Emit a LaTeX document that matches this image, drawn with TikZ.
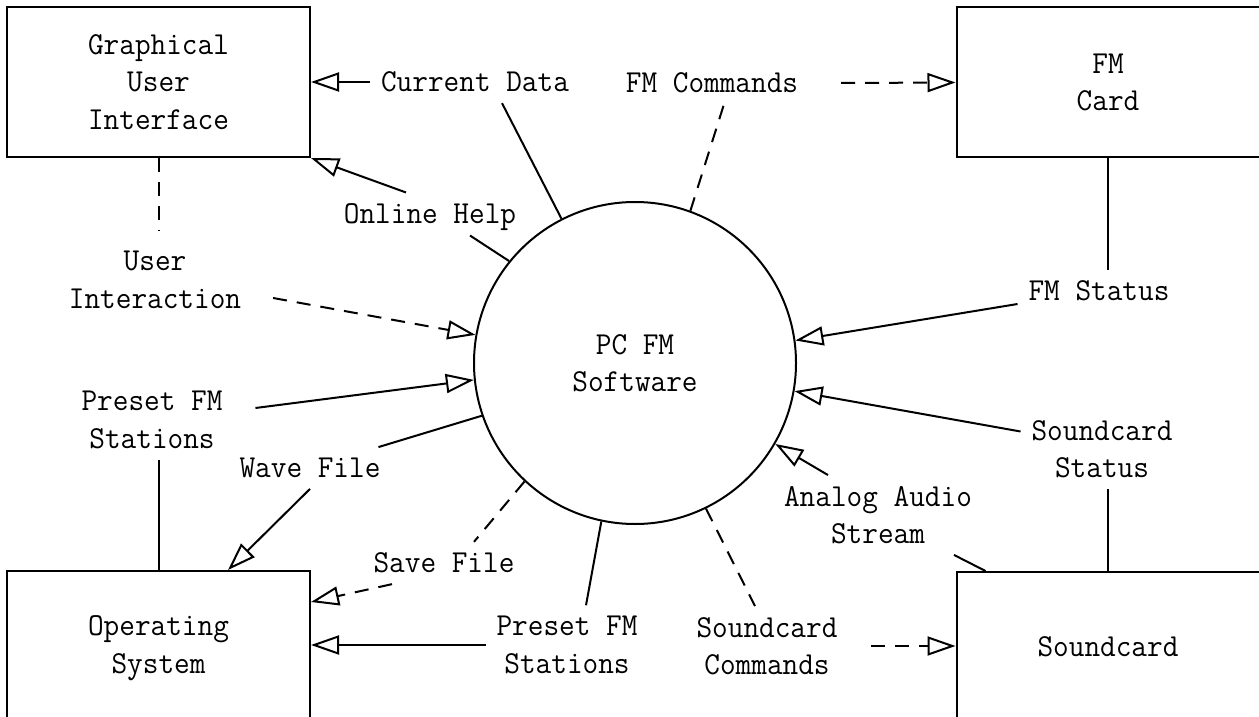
\documentclass[tikz,border=0pt]{standalone}
\usepackage{fontspec}
\newfontfamily\dfdfont[FakeStretch=0.95]{Latin Modern Mono}
\usetikzlibrary{arrows.meta}

\begin{document}
\begin{tikzpicture}[x=0.5pt,y=-0.5pt,line width=1pt,
		font=\dfdfont\fontsize{16}{18.75}\selectfont,
		box/.style={draw,rectangle,minimum width=151.5pt,minimum height=75pt,inner sep=0pt,align=center},
		proc/.style={draw,circle,minimum size=161pt,inner sep=0pt,align=center},
		lbl/.style={inner sep=5pt,align=center},
		flow/.style={-{Triangle[open,length=14pt,width=9.5pt]}},
		dline/.style={dash pattern=on 7pt off 5pt},
		dflow/.style={flow,dline}]
		\useasboundingbox (0,0) rectangle (1259,717);
		\clip (0,0) rectangle (1259,717);
		\node[box] (gui) at (158.5,82) {Graphical\\User\\Interface};
		\node[box] (fm) at (1108,82.5) {FM\\Card};
		\node[box,minimum height=77pt] (os) at (158.5,648) {Operating\\System};
		\node[box] (sc) at (1108,647) {Soundcard};
		\node[proc] (sw) at (635,363) {PC FM\\Software};
		\node[lbl] (cur) at (475,82) {Current Data};
		\node[lbl] (fmc) at (712,83) {FM Commands};
		\node[lbl] (help) at (430,217) {Online Help};
		\node[lbl] (usr) at (155,280) {User\\Interaction};
		\node[lbl] (fms) at (1099,291) {FM Status};
		\node[lbl] (pre1) at (152,420) {Preset FM\\Stations};
		\node[lbl] (wave) at (310,468) {Wave File};
		\node[lbl] (save) at (444,563) {Save File};
		\node[lbl] (pre2) at (567,645) {Preset FM\\Stations};
		\node[lbl] (scc) at (767,646) {Soundcard\\Commands};
		\node[lbl] (ana) at (878,515) {Analog Audio\\Stream};
		\node[lbl] (scs) at (1102,449) {Soundcard\\Status};
		\draw[flow] (cur.west) -- (gui.east);
		\draw (sw.117) -- ([xshift=13.5pt]cur.south);
		\draw[dflow] ([xshift=16pt]fmc.east) -- (fm.west);
		\draw[dline] (sw.70.7) -- ([xshift=6pt]fmc.south);
		\draw[flow] ([xshift=-12pt]help.north) -- (gui.south east);
		\draw (sw.141.5) -- ([shift={(20pt,3pt)}]help.south);
		\draw[dline] (gui.south) -- ([yshift=5pt]gui.south |- usr.north);
		\draw[dflow] ([shift={(10.5pt,-9pt)}]usr.east) -- (sw.170);
		\draw (fm.south) -- (fm.south |- fms.north);
		\draw[flow] ([yshift=-6.5pt]fms.west) -- (sw.8.6);
		\draw[flow] ([shift={(11pt,6pt)}]pre1.east) -- (sw.186.8);
		\draw (os.north |- pre1.south) -- (os.north);
		\draw ([xshift=-6.5pt]wave.north east) -- (sw.199);
		\draw[flow] (wave.south) -- ([xshift=34.75pt]os.north);
		\draw[dline] (sw.227.8) -- ([xshift=15pt]save.north);
		\draw[dflow] ([xshift=-26pt]save.south) -- ([yshift=-16pt]os.north east);
		\draw[flow] (pre2.west) -- (pre2.west -| os.east);
		\draw (sw.258.8) -- ([xshift=9.5pt]pre2.north);
		\draw[dline] (sw.296.9) -- ([xshift=-6pt]scc.north);
		\draw[dflow] ([xshift=11.5pt]scc.east) -- (scc.east -| sc.west);
		\draw[flow] ([xshift=-25pt]ana.north) -- (sw.-30.7);
		\draw ([xshift=38pt]ana.south) -- ([xshift=15pt]sc.north west);
		\draw[flow] ([yshift=8.75pt]scs.west) -- (sw.-10);
		\draw (scs.south -| sc.north) -- (sc.north);
	\end{tikzpicture}
\end{document}
